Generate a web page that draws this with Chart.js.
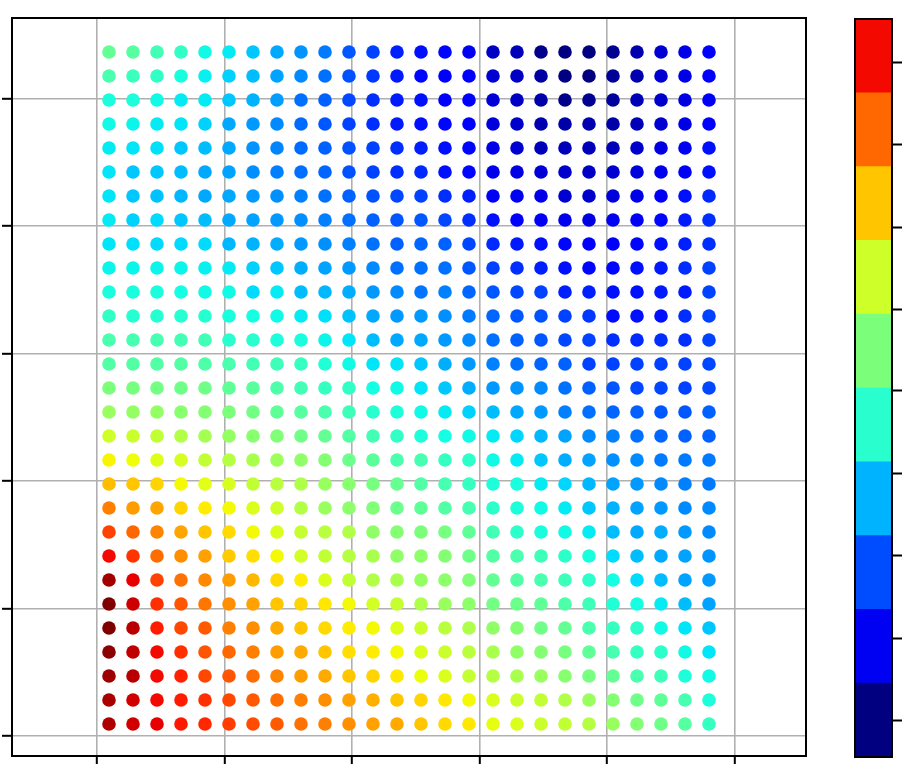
<!DOCTYPE html>
<html>
<head>
<meta charset="utf-8">
<script src="https://cdn.jsdelivr.net/npm/chart.js@4.4.1/dist/chart.umd.min.js"></script>
<style>
  html, body { margin: 0; padding: 0; background: #fff; overflow: hidden; }
  #wrap { position: relative; width: 902px; height: 764px; }
  #scatterChart { position: absolute; left: 0; top: 0; }
  #colorbarChart { position: absolute; left: 830px; top: 0; }
</style>
</head>
<body>
<div id="wrap">
  <canvas id="scatterChart" width="830" height="764"></canvas>
  <canvas id="colorbarChart" width="72" height="764"></canvas>
</div>
<script>
// --- Data ---
// grid columns (left -> right) and rows (top -> bottom)
const xs = [0, 1, 2, 3, 4, 5, 6, 7, 8, 9, 10, 11, 12, 13, 14, 15, 16, 17, 18, 19, 20, 21, 22, 23, 24, 25];
const ys = [28, 27, 26, 25, 24, 23, 22, 21, 20, 19, 18, 17, 16, 15, 14, 13, 12, 11, 10, 9, 8, 7, 6, 5, 4, 3, 2, 1, 0];

// tick positions (labels are outside the picture)
const xTicks = [-0.5, 4.8125, 10.125, 15.4375, 20.75, 26.0625];
const yTicks = [-0.5, 4.8125, 10.125, 15.4375, 20.75, 26.0625];
const xRange = [-4.0417, 29.0417];
const yRange = [-1.3333, 29.4167];

// colour value of every dot, one row per line, top row first (0 = navy, 1 = dark red)
const zRows = [
  [0.47, 0.455, 0.43, 0.41, 0.37, 0.355, 0.32, 0.29, 0.27, 0.245, 0.21, 0.19, 0.155, 0.14, 0.13, 0.10, 0.06, 0.05, 0.01, 0.0, 0.0, 0.015, 0.04, 0.07, 0.09, 0.12],
  [0.44, 0.42, 0.41, 0.38, 0.36, 0.33, 0.31, 0.285, 0.26, 0.235, 0.205, 0.18, 0.15, 0.13, 0.12, 0.11, 0.07, 0.06, 0.03, 0.0, 0.0, 0.02, 0.04, 0.07, 0.09, 0.11],
  [0.38, 0.385, 0.37, 0.355, 0.355, 0.32, 0.30, 0.28, 0.235, 0.22, 0.195, 0.17, 0.15, 0.14, 0.125, 0.115, 0.075, 0.06, 0.035, 0.01, 0.015, 0.025, 0.045, 0.065, 0.085, 0.105],
  [0.37, 0.365, 0.355, 0.35, 0.33, 0.29, 0.275, 0.26, 0.23, 0.21, 0.19, 0.17, 0.15, 0.14, 0.13, 0.12, 0.08, 0.065, 0.04, 0.035, 0.04, 0.035, 0.05, 0.07, 0.09, 0.11],
  [0.355, 0.35, 0.345, 0.32, 0.31, 0.29, 0.27, 0.255, 0.23, 0.22, 0.205, 0.19, 0.17, 0.155, 0.14, 0.13, 0.09, 0.07, 0.05, 0.05, 0.05, 0.05, 0.065, 0.085, 0.10, 0.14],
  [0.35, 0.32, 0.32, 0.31, 0.29, 0.285, 0.265, 0.25, 0.235, 0.225, 0.205, 0.19, 0.17, 0.165, 0.14, 0.13, 0.095, 0.085, 0.075, 0.065, 0.06, 0.07, 0.08, 0.095, 0.105, 0.14],
  [0.35, 0.32, 0.315, 0.305, 0.29, 0.29, 0.275, 0.265, 0.25, 0.235, 0.22, 0.205, 0.195, 0.19, 0.17, 0.155, 0.105, 0.10, 0.09, 0.07, 0.065, 0.08, 0.09, 0.105, 0.14, 0.165],
  [0.355, 0.33, 0.34, 0.32, 0.31, 0.29, 0.285, 0.275, 0.265, 0.25, 0.235, 0.22, 0.21, 0.21, 0.195, 0.17, 0.14, 0.115, 0.105, 0.095, 0.085, 0.10, 0.105, 0.13, 0.15, 0.17],
  [0.35, 0.345, 0.34, 0.34, 0.34, 0.305, 0.30, 0.295, 0.275, 0.265, 0.25, 0.235, 0.22, 0.225, 0.22, 0.195, 0.165, 0.15, 0.14, 0.13, 0.115, 0.115, 0.13, 0.14, 0.155, 0.17],
  [0.365, 0.365, 0.365, 0.365, 0.36, 0.355, 0.33, 0.32, 0.295, 0.285, 0.275, 0.26, 0.235, 0.235, 0.235, 0.21, 0.19, 0.17, 0.155, 0.14, 0.13, 0.13, 0.14, 0.15, 0.17, 0.19],
  [0.38, 0.38, 0.38, 0.375, 0.37, 0.37, 0.34, 0.355, 0.31, 0.305, 0.295, 0.275, 0.26, 0.24, 0.25, 0.225, 0.21, 0.195, 0.19, 0.155, 0.155, 0.14, 0.14, 0.15, 0.15, 0.19],
  [0.41, 0.395, 0.395, 0.395, 0.395, 0.38, 0.375, 0.37, 0.355, 0.345, 0.315, 0.29, 0.275, 0.275, 0.265, 0.245, 0.225, 0.21, 0.205, 0.19, 0.18, 0.135, 0.14, 0.14, 0.17, 0.19],
  [0.44, 0.435, 0.435, 0.43, 0.43, 0.40, 0.40, 0.385, 0.38, 0.365, 0.35, 0.31, 0.29, 0.29, 0.275, 0.26, 0.235, 0.22, 0.21, 0.195, 0.19, 0.17, 0.165, 0.17, 0.17, 0.19],
  [0.45, 0.45, 0.45, 0.45, 0.445, 0.44, 0.43, 0.425, 0.415, 0.39, 0.37, 0.35, 0.35, 0.32, 0.295, 0.275, 0.25, 0.235, 0.225, 0.22, 0.19, 0.19, 0.19, 0.19, 0.19, 0.195],
  [0.50, 0.495, 0.49, 0.485, 0.485, 0.465, 0.46, 0.445, 0.43, 0.415, 0.41, 0.375, 0.37, 0.35, 0.32, 0.295, 0.275, 0.27, 0.26, 0.235, 0.22, 0.21, 0.195, 0.195, 0.19, 0.195],
  [0.535, 0.53, 0.53, 0.515, 0.51, 0.50, 0.49, 0.465, 0.455, 0.44, 0.425, 0.40, 0.385, 0.37, 0.355, 0.33, 0.31, 0.29, 0.275, 0.25, 0.235, 0.225, 0.22, 0.21, 0.21, 0.22],
  [0.60, 0.595, 0.585, 0.565, 0.55, 0.53, 0.515, 0.505, 0.485, 0.47, 0.45, 0.43, 0.41, 0.385, 0.375, 0.37, 0.355, 0.335, 0.305, 0.285, 0.26, 0.25, 0.235, 0.225, 0.22, 0.22],
  [0.65, 0.64, 0.62, 0.61, 0.585, 0.57, 0.555, 0.54, 0.525, 0.51, 0.48, 0.46, 0.44, 0.435, 0.415, 0.405, 0.37, 0.355, 0.32, 0.295, 0.285, 0.265, 0.26, 0.245, 0.245, 0.245],
  [0.71, 0.70, 0.685, 0.645, 0.625, 0.61, 0.585, 0.575, 0.56, 0.535, 0.515, 0.495, 0.475, 0.45, 0.435, 0.415, 0.385, 0.38, 0.355, 0.335, 0.305, 0.285, 0.275, 0.26, 0.25, 0.245],
  [0.775, 0.745, 0.735, 0.685, 0.66, 0.645, 0.615, 0.60, 0.565, 0.535, 0.52, 0.505, 0.48, 0.465, 0.45, 0.435, 0.405, 0.385, 0.37, 0.355, 0.32, 0.30, 0.285, 0.275, 0.26, 0.26],
  [0.84, 0.80, 0.77, 0.735, 0.70, 0.68, 0.645, 0.615, 0.59, 0.575, 0.565, 0.525, 0.51, 0.50, 0.495, 0.465, 0.43, 0.405, 0.38, 0.37, 0.355, 0.31, 0.29, 0.295, 0.275, 0.26],
  [0.90, 0.855, 0.795, 0.76, 0.74, 0.695, 0.675, 0.645, 0.605, 0.585, 0.57, 0.555, 0.525, 0.52, 0.51, 0.485, 0.45, 0.44, 0.425, 0.405, 0.38, 0.34, 0.31, 0.29, 0.285, 0.27],
  [0.97, 0.91, 0.84, 0.79, 0.765, 0.745, 0.715, 0.68, 0.66, 0.615, 0.585, 0.565, 0.555, 0.53, 0.52, 0.505, 0.47, 0.45, 0.44, 0.425, 0.405, 0.375, 0.34, 0.31, 0.285, 0.275],
  [1.0, 0.935, 0.86, 0.82, 0.785, 0.76, 0.74, 0.70, 0.685, 0.665, 0.645, 0.605, 0.59, 0.56, 0.535, 0.52, 0.49, 0.48, 0.465, 0.445, 0.425, 0.39, 0.375, 0.355, 0.31, 0.285],
  [1.0, 0.95, 0.88, 0.835, 0.815, 0.775, 0.76, 0.73, 0.70, 0.68, 0.66, 0.645, 0.62, 0.595, 0.575, 0.56, 0.525, 0.51, 0.485, 0.47, 0.44, 0.415, 0.405, 0.37, 0.35, 0.32],
  [0.99, 0.945, 0.90, 0.86, 0.82, 0.80, 0.775, 0.745, 0.73, 0.70, 0.675, 0.66, 0.645, 0.615, 0.595, 0.575, 0.555, 0.525, 0.51, 0.495, 0.465, 0.435, 0.415, 0.405, 0.37, 0.35],
  [0.975, 0.95, 0.90, 0.875, 0.835, 0.82, 0.795, 0.77, 0.745, 0.73, 0.70, 0.685, 0.665, 0.635, 0.615, 0.59, 0.57, 0.555, 0.535, 0.515, 0.495, 0.47, 0.44, 0.425, 0.385, 0.37],
  [0.965, 0.93, 0.90, 0.88, 0.86, 0.835, 0.815, 0.795, 0.775, 0.76, 0.74, 0.725, 0.70, 0.685, 0.665, 0.645, 0.615, 0.595, 0.585, 0.565, 0.535, 0.51, 0.485, 0.465, 0.435, 0.385],
  [0.96, 0.93, 0.91, 0.885, 0.87, 0.845, 0.83, 0.815, 0.79, 0.775, 0.76, 0.74, 0.73, 0.70, 0.68, 0.665, 0.63, 0.615, 0.595, 0.585, 0.57, 0.535, 0.51, 0.485, 0.455, 0.415]
];

// colorbar: 10 bins and its tick positions
const cbBounds = [0, 0.1, 0.2, 0.3, 0.4, 0.5, 0.6, 0.7, 0.8, 0.9, 1.0];
const cbTicks = [0.050, 0.161, 0.273, 0.384, 0.496, 0.607, 0.718, 0.830, 0.941];

// --- jet colormap ---
const jetRed = [[0, 0], [0.35, 0], [0.66, 1], [0.89, 1], [1, 0.5]];
const jetGreen = [[0, 0], [0.125, 0], [0.375, 1], [0.64, 1], [0.91, 0], [1, 0]];
const jetBlue = [[0, 0.5], [0.11, 1], [0.34, 1], [0.65, 0], [1, 0]];

function channel(segs, v) {
    for (let i = 1; i < segs.length; i++) {
        if (v <= segs[i][0]) {
            const [x0, y0] = segs[i - 1];
            const [x1, y1] = segs[i];
            return y0 + (y1 - y0) * (v - x0) / (x1 - x0);
        }
    }
    return segs[segs.length - 1][1];
}

function jet(v) {
    v = Math.min(1, Math.max(0, v));
    const r = Math.round(channel(jetRed, v) * 255);
    const g = Math.round(channel(jetGreen, v) * 255);
    const b = Math.round(channel(jetBlue, v) * 255);
    return `rgb(${r}, ${g}, ${b})`;
}

// black frame round the plot area
const framePlugin = {
    id: 'frame',
    afterDraw(chart) {
        const { ctx, chartArea: a } = chart;
        ctx.save();
        ctx.strokeStyle = '#000';
        ctx.lineWidth = 2;
        ctx.strokeRect(a.left, a.top, a.right - a.left, a.bottom - a.top);
        ctx.restore();
    }
};

Chart.defaults.animation = false;

// === Scatter ===
const points = [];
const pointColors = [];
zRows.forEach((row, r) => {
    row.forEach((z, c) => {
        points.push({ x: xs[c], y: ys[r] });
        pointColors.push(jet(z));
    });
});

const gridStyle = {
    color: '#b0b0b0',
    lineWidth: 1.6,
    tickColor: '#000',
    tickWidth: 2
};

new Chart(document.getElementById('scatterChart'), {
    type: 'scatter',
    data: {
        datasets: [{
            data: points,
            backgroundColor: pointColors,
            borderWidth: 0,
            pointRadius: 6.8,
            pointHoverRadius: 6.8
        }]
    },
    options: {
        responsive: false,
        events: [],
        layout: { padding: { left: 2, top: 18, right: 24, bottom: 0 } },
        plugins: { legend: { display: false }, tooltip: { enabled: false } },
        scales: {
            x: {
                type: 'linear',
                min: xRange[0],
                max: xRange[1],
                afterBuildTicks: axis => { axis.ticks = xTicks.map(v => ({ value: v })); },
                ticks: { display: false },
                grid: { ...gridStyle, tickLength: 8 },
                border: { display: false }
            },
            y: {
                type: 'linear',
                min: yRange[0],
                max: yRange[1],
                afterBuildTicks: axis => { axis.ticks = yTicks.map(v => ({ value: v })); },
                ticks: { display: false },
                grid: { ...gridStyle, tickLength: 10 },
                border: { display: false }
            }
        }
    },
    plugins: [framePlugin]
});

// === Colorbar ===
const cbDatasets = cbBounds.slice(0, -1).map((lo, i) => ({
    data: [cbBounds[i + 1] - lo],
    backgroundColor: jet(lo),
    borderWidth: 0,
    barPercentage: 1,
    categoryPercentage: 1
}));

new Chart(document.getElementById('colorbarChart'), {
    type: 'bar',
    data: { labels: [''], datasets: cbDatasets },
    options: {
        responsive: false,
        events: [],
        layout: { padding: { left: 25, top: 19, right: 0, bottom: 7 } },
        plugins: { legend: { display: false }, tooltip: { enabled: false } },
        scales: {
            x: { stacked: true, display: false },
            y: {
                stacked: true,
                position: 'right',
                min: 0,
                max: 1,
                afterBuildTicks: axis => { axis.ticks = cbTicks.map(v => ({ value: v })); },
                ticks: { display: false },
                grid: { drawOnChartArea: false, tickLength: 10, tickColor: '#000', tickWidth: 2 },
                border: { display: false }
            }
        }
    },
    plugins: [framePlugin]
});
</script>
</body>
</html>
